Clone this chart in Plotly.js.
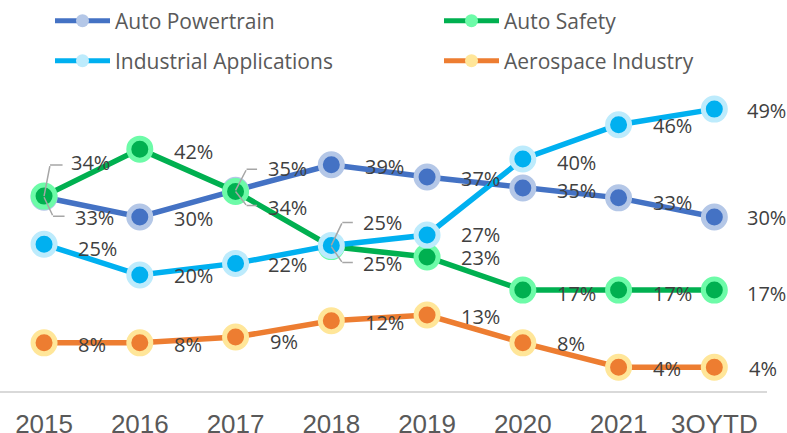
<!DOCTYPE html>
<html>
<head>
<meta charset="utf-8">
<script src="https://cdn.plot.ly/plotly-3.0.1.min.js"></script>
<style>
  html, body { margin: 0; padding: 0; background: #ffffff; }
  #chart { width: 787px; height: 433px; }
</style>
</head>
<body>
<div id="chart"></div>
<script>
// ---------- data ----------
const categories = ['2015', '2016', '2017', '2018', '2019', '2020', '2021', '3QYTD'];
const seriesNames = ['Auto Powertrain', 'Auto Safety', 'Industrial Applications', 'Aerospace Industry'];
const autoPowertrain = [33.4, 30.0, 34.6, 39.0, 36.9, 35.0, 33.3, 30.0];
const autoSafety     = [33.6, 41.7, 34.4, 24.9, 23.1, 17.4, 17.4, 17.4];
const industrialApps = [25.3, 20.0, 22.0, 25.1, 26.9, 40.0, 45.9, 48.6];
const aerospace      = [8.3, 8.3, 9.3, 12.1, 13.1, 8.3, 4.1, 4.1];

// ---------- styles ----------
const seriesValues = [autoPowertrain, autoSafety, industrialApps, aerospace];
const lineColors = ['#4472C4', '#00B050', '#00B0F0', '#ED7D31'];
const ringColors = ['#B4C7E7', '#6DFBA8', '#BDEBFC', '#FFE699'];
// vertical label offsets (px, positive = down) per series / category
const labelDy = [
  [20, 1, -22, 2, 2, 2, 5, 0],
  [-34, 2, 16, 17, 0, 3, 3, 3],
  [4, 0, 1, -23, 0, 3, 1, 1],
  [2, 2, 4, 2, 1, 1, 1, 1]
];
const labelDx = [
  [30, 33, 31, 33, 33, 33, 33, 32],
  [26, 33, 31, 31, 33, 33, 33, 32],
  [33, 33, 31, 31, 33, 33, 33, 32],
  [33, 33, 33, 33, 33, 33, 33, 34]
];
// leader lines: [series, category, elbowDx, elbowDy, horizontal length]
const leaders = [
  [0, 0, 9, 19, 12],
  [1, 0, 6, -31, 13],
  [0, 2, 11, -21, 11],
  [1, 2, 11, 14, 11],
  [2, 3, 11, -23, 11],
  [1, 3, 11, 16, 11]
];
// legend slots: [left px of symbol, centre y px]
const legendSlots = [[50, 21], [439, 21], [50, 61], [439, 61]];
const legendIds = ['legend', 'legend2', 'legend3', 'legend4'];

const labelFont = { family: 'Open Sans, Noto Sans, sans-serif', size: 20, color: '#404040' };
const legendFont = { family: 'Open Sans, Noto Sans, sans-serif', size: 21, color: '#595959' };

const PLOT_W = 767, PLOT_H = 391;

const traces = [];
seriesValues.forEach((vals, s) => {
  traces.push({
    type: 'scatter',
    mode: 'lines+markers',
    x: categories,
    y: vals,
    name: seriesNames[s],
    showlegend: false,
    cliponaxis: false,
    line: { color: lineColors[s], width: 5.5 },
    marker: { symbol: 'circle', size: 22, color: lineColors[s], line: { color: ringColors[s], width: 5 } },
    hoverinfo: 'skip'
  });
});
// legend-only entries
seriesValues.forEach((vals, s) => {
  traces.push({
    type: 'scatter',
    mode: 'lines+markers',
    x: [null],
    y: [null],
    name: seriesNames[s],
    legend: legendIds[s],
    line: { color: lineColors[s], width: 5 },
    marker: { symbol: 'circle', size: 13, color: ringColors[s], line: { width: 0 } },
    hoverinfo: 'skip'
  });
});

const annotations = [];
seriesValues.forEach((vals, s) => {
  vals.forEach((v, i) => {
    annotations.push({
      x: i, y: v, xref: 'x', yref: 'y',
      text: Math.round(v) + '%',
      showarrow: false,
      xanchor: 'left', yanchor: 'middle',
      xshift: labelDx[s][i], yshift: -labelDy[s][i],
      borderpad: 0,
      font: labelFont
    });
  });
});
leaders.forEach(([s, i, ex, ey, len]) => {
  const v = seriesValues[s][i];
  const base = {
    x: i, y: v, xref: 'x', yref: 'y',
    text: ' ', font: { size: 1 }, borderpad: 0,
    showarrow: true, arrowhead: 0, arrowwidth: 1.5, arrowcolor: '#A6A6A6',
    standoff: 0, startstandoff: 0
  };
  annotations.push(Object.assign({}, base, { ax: ex, ay: ey }));
  annotations.push(Object.assign({}, base, { xshift: ex, yshift: -ey, ax: len, ay: 0 }));
});

const layout = {
  width: 787, height: 433,
  margin: { l: 0, r: 20, t: 0, b: 42 },
  paper_bgcolor: '#ffffff', plot_bgcolor: '#ffffff',
  xaxis: {
    type: 'category',
    range: [-0.46, 7.55],
    showgrid: false, zeroline: false,
    showline: true, linecolor: '#D9D9D9', linewidth: 1.5,
    ticks: '', ticklabelstandoff: 9,
    tickfont: { family: 'Liberation Sans, Arial, sans-serif', size: 26, color: '#595959' }
  },
  yaxis: {
    range: [0, PLOT_H / 5.8],
    visible: false, showgrid: false, zeroline: false, fixedrange: true
  },
  annotations: annotations,
  showlegend: true
};
legendIds.forEach((id, k) => {
  layout[id] = {
    orientation: 'h',
    x: legendSlots[k][0] / PLOT_W, y: 1 - legendSlots[k][1] / PLOT_H,
    xanchor: 'left', yanchor: 'middle',
    itemwidth: 55,
    font: legendFont, bgcolor: 'rgba(0,0,0,0)'
  };
});

Plotly.newPlot('chart', traces, layout, { staticPlot: true, displayModeBar: false });
</script>
</body>
</html>
